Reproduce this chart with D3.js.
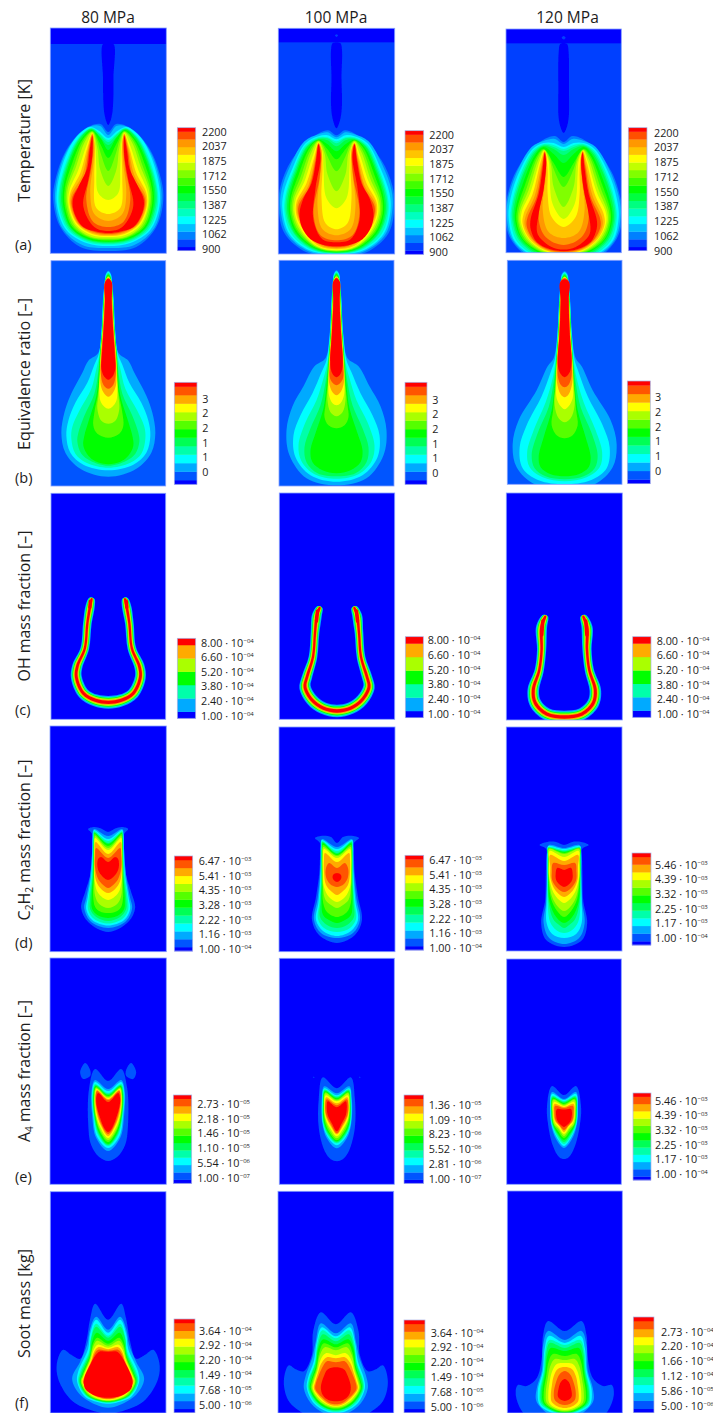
<!DOCTYPE html>
<html><head><meta charset="utf-8">
<style>html,body{margin:0;padding:0;background:#fff}svg{display:block}text{font-family:"Open Sans",sans-serif;fill:#1c1c1c}</style>
<script src="https://cdnjs.cloudflare.com/ajax/libs/d3/7.8.5/d3.min.js"></script>
</head><body><svg id="c" width="713" height="1413"></svg>
<script>
const pressures = ["80 MPa","100 MPa","120 MPa"];
const rowNames = ["Temperature [K]","Equivalence ratio [–]","OH mass fraction [–]","C|2|H|2| mass fraction [–]","A|4| mass fraction [–]","Soot mass [kg]"];
const rowTags = ["(a)","(b)","(c)","(d)","(e)","(f)"];

const rainbow17 = ["#0000ff","#0040ff","#0080ff","#00c0ff","#00ffff","#00ffc0","#00ff80","#00ff40","#00ff00","#40ff00","#80ff00","#c0ff00","#ffff00","#ffc400","#ff9800","#ff5000","#ff0000"];
const rainbow13 = ["#0000ff","#0055ff","#00aaff","#00ffff","#00ffaa","#00ff55","#00ff00","#55ff00","#aaff00","#ffff00","#ffaa00","#ff5500","#ff0000"];
const rainbow7 = ["#0000ff","#00aaff","#00ffaa","#00ff00","#aaff00","#ffaa00","#ff0000"];

const tempTicks = ["2200","2037","1875","1712","1550","1387","1225","1062","900"];
const phiTicks = ["3","2","2","1","1","0"];
const ohTicks = [["8.00","04"],["6.60","04"],["5.20","04"],["3.80","04"],["2.40","04"],["1.00","04"]];
const c2h2Ticks = [["6.47","03"],["5.41","03"],["4.35","03"],["3.28","03"],["2.22","03"],["1.16","03"],["1.00","04"]];
const c2h2Ticks120 = [["5.46","03"],["4.39","03"],["3.32","03"],["2.25","03"],["1.17","03"],["1.00","04"]];
const a4Ticks80 = [["2.73","05"],["2.18","05"],["1.46","05"],["1.10","05"],["5.54","06"],["1.00","07"]];
const a4Ticks100 = [["1.36","05"],["1.09","05"],["8.23","06"],["5.52","06"],["2.81","06"],["1.00","07"]];
const a4Ticks120 = c2h2Ticks120;
const sootTicks = [["3.64","04"],["2.92","04"],["2.20","04"],["1.49","04"],["7.68","05"],["5.00","06"]];
const sootTicks120 = [["2.73","04"],["2.20","04"],["1.66","04"],["1.12","04"],["5.86","05"],["5.00","06"]];

// iso-contours: [level, [radial, axial, radial, axial, ...]] half outline from axis to axis
const stripDepth = [16,14,14.3];
const tempJet80 = [[0,[0,16,5.3,16,5.2,50,5,72,3.5,88,0,97]]];
const tempJet100 = [[0,[0,14,4,15,5.5,22,5,50,5.5,75,4,90,0,100]],[1,[0,6,1.5,7.3,0,8.6]]];
const tempJet120 = [[0,[0,14,3.5,15,5,24,5.3,60,5.3,85,3.5,97,0,104]],[1,[0,7,2,8.7,0,10.4]]];
const temp80 = [
[2,[0,104,8,96,25,102,42,122,53,152,55,172,48,199,28,219,0,223]],
[3,[0,107,8,98,17,98,29,106,43,126,52,155,53,175,46,200,26,217,0,220]],
[4,[0,110,9,103,18,99,32,109,43,129,51,159,51,179,42,202,22,215,0,218]],
[5,[0,112,9,105,17,100,30,110,41,131,49,160,49.5,178,41,201,21,214,0,216.5]],
[6,[0,114,9,106,17,100.5,29,110,40,132,48,160,48,178,39,201,20,213,0,215.5]],
[7,[0,117,9,108,17,101,28,110,39,132,46.5,160,46.5,178,38,200,20,212,0,214.5]],
[8,[0,122,8,110,17,102,27,111,38,133,45,160,45,178,37,200,20,211,0,213.7]],
[9,[0,130,8,116,16,103,26,112,36,135,43.5,160,43.5,178,36,199,19,210,0,212.5]],
[10,[0,143,8,124,11,113,16,103.5,25,113,34,137,42,161,42,178,35,198,18,209.5,0,211.5]],
[11,[0,158,8,142,11,120,16,104,24,115,32,138,40.5,161,40.5,178,33,198,18,208.5,0,210.5]],
[12,[0,172,10,165,12,140,13,118,16,105,22,118,30,142,39,163,39.5,178,32,197,17,207,0,209]],
[13,[0,186,12,180,14,150,13.5,120,16,105.5,21,120,28,145,38,165,38.5,178,31,196,16,206,0,208]],
[14,[0,193,14,186,18,165,15,135,14,115,16,106,20,120,26,147,37,167,37.5,178,30,196,15,205,0,207]],
[15,[0,199,15,194,22,172,17,140,15,118,16,107,19.5,122,24,148,36,169,36.5,178,28,197,14,204,0,206]],
[16,[0,203,14,199,25,178,20,152,16,128,16,108,19,125,21,140,30,159,35.5,172,34,185,25,199,12,203.5,0,205]]];
const temp100 = [
[2,[0,107,8.7,102,25,110,45,132,56,158,58,178,52,205,30,224,0,228]],
[3,[0,109,9,104,18,106,32,113,46,137,55,162,56,180,49,206,28,223,0,227]],
[4,[0,111,9,107,18,108,31,115,44,140,53,165,54,182,47,206,27,222,0,226]],
[5,[0,113,9,109,18,109,31,117,43,142,51,167,52,184,45,206,25,221.5,0,225.5]],
[6,[0,115,9,110,18,110,30,118,42,143,50,168,50.5,185,43,205,24,221,0,225]],
[7,[0,118,9,112,18,111,29,118,41,144,48.5,168,49,185,42,205,23,220.5,0,224.5]],
[8,[0,123,9,116,18,111.5,28,119,40,145,47,169,47.5,185,41,204,22,220,0,224]],
[9,[0,131,9,121,18,112,27,120,38,147,45.5,169,46,186,39,204,21,219.5,0,223.5]],
[10,[0,143,9,128,13,118,18,112.5,26,122,36,149,44,170,44.5,186,38,203,20,219,0,223]],
[11,[0,163,9,146,12,125,18,113,25,124,34,151,42.5,171,43,186,36,203,20,218.5,0,222.5]],
[12,[0,180,10,170,13,140,14,123,18,114,23.5,127,32,153,41,172,41.5,186,35,202,19,218,0,222]],
[13,[0,201,11,195,15,170,14,140,15,122,18,114.5,22,128,30,155,40,174,40,187,33,202,18,217.5,0,221]],
[14,[0,207,14,201,19,178,15.5,140,15,122,18,115,21.5,130,28,157,39,176,38.5,188,31,202,17,216.5,0,220]],
[15,[0,212,16,207,23,185,17,150,15.5,125,18,115.5,21,132,27,158,38,178,37.5,188,29,203,15,216,0,219]],
[16,[0,214,14,211,23,192,21,160,16,130,18,116,20.5,133,25,155,33,170,37,185,35,198,26,211,12,217,0,218]]];
const temp120 = [
[2,[0,113,9,107,28,116,48,143,57,170,59,185,53,210,32,230,0,234]],
[3,[0,115,9,110,20,112,32,118,48,146,56,172,57,187,51,211,30,229,0,233]],
[4,[0,118,10,114,20,114,31,120,47,149,54,174,55,189,49,212,28,228,0,232]],
[5,[0,120,10,116,20,115,31,122,45,150,52,176,53,190,47,212,27,227,0,231]],
[6,[0,122,10,118,20,116,30,123,44,152,51,177,51.5,191,45,211,26,226,0,230]],
[7,[0,126,10,120,20,117,29,124,43,153,49.5,178,50,192,44,210,25,225,0,229]],
[8,[0,134,10,125,20,118,28,125,41,155,48,179,48.5,192,42,210,24,224,0,228]],
[9,[0,148,10,134,20,120,27,127,39,157,46.5,180,47,193,41,210,23,223,0,227]],
[10,[0,158,10,140,14,128,20,120.5,26,128,37,159,45,181,45.5,193,39,210,22,222.5,0,226]],
[11,[0,178,10,158,13,135,19.5,121,25,130,35,161,43.5,182,44,194,37,210,21,222,0,225.5]],
[12,[0,190,11,175,14,145,15,132,19.5,121.5,24,132,33,163,42,183,42.5,194,35,210,20,221.5,0,225]],
[13,[0,198,12,188,16,165,16,140,19,122,23,133,31,165,40,185,41,195,34,210,19,221,0,224.5]],
[14,[0,209,15,203,21,180,18,150,17,130,19,122.5,22,135,29,167,38,187,39,196,32,210,18,220.5,0,224]],
[15,[0,216,18,208,25,190,20,160,17.5,132,19,123,21.5,137,27,168,36,188,37,197,30,211,17,220,0,223]],
[16,[0,220.5,12,218,26,205,25,185,20,160,17.5,133,19,124,21,140,25,165,33,190,33,200,27,213,14,220,0,222]]];
const phi80 = [
[2,[0,10,2.5,13,3.5,20,5.5,40,7,70,10,92,20,100,26,112,38,135,44,152,47,172,43,192,28,208,0,216]],
[3,[0,11,2.5,14,3.5,20,5.2,40,6.7,70,9.5,93,14,104,21,122,33,142,40,160,42,175,38,192,25,204,0,209.5]],
[4,[0,12,2.3,15,3.2,20,5,40,6.5,70,9,95,12,108,17,128,29,150,36,166,37,178,33,193,22,202,0,207]],
[5,[0,13,2.2,16,3,20,4.8,40,6.3,70,8.7,95,10,110,14,133,24,155,30,172,31,181,27,193,18,200,0,205]],
[6,[0,14,2.2,17,3,21,4.6,40,6.1,70,8.4,95,9.5,112,12,135,19,158,24,175,25,185,20,195,12,201,0,203.5]],
[7,[0,15,2,18,3,22,4.4,40,5.9,70,8,95,9,113,10,130,14,152,15,165,11,173,0,177]],
[8,[0,16,2.5,19,3.2,24,4.2,40,5.7,70,7.8,95,8.5,113,10,135,11,148,7,160,0,163]],
[9,[0,16.5,2.5,19.5,3.4,24,4,40,5.5,70,7.5,95,8.3,113,9,130,8,140,4,146,0,148]],
[10,[0,17,2.5,20,3.8,40,5.3,70,7.3,95,8,113,7.5,125,4,133,0,136]],
[11,[0,17.5,3.2,21,3.6,40,5.1,70,7,95,7.5,113,5,124,0,128]],
[12,[0,18,3.5,22,3.3,40,4.8,70,6.5,95,7,108,4,116,0,119]]];
const phi100 = [
[2,[0,10,2.5,13,3.5,20,5,40,7,75,11,98,22,106,33,126,44,146,50,170,47,195,30,218,0,225]],
[3,[0,11,2.5,14,3.5,20,4.8,40,6.7,75,10,100,15,112,24,133,36,155,43,175,41,197,26,215,0,221.5]],
[4,[0,12,2.3,15,3.2,20,4.6,40,6.4,75,9,102,13,118,20,140,31,162,38,185,35,201,22,214,0,218.5]],
[5,[0,13,2.2,16,3,20,4.4,40,6.1,75,8.5,103,11,122,16,145,26,168,32,187,30,202,19,213,0,216]],
[6,[0,14,2.2,17,3,21,4.2,40,5.9,75,8.2,105,10,125,13,148,21,173,26,190,24,202,14,210,0,213]],
[7,[0,15,2,18,3,22,4,40,5.7,75,8,105,9,125,11,145,12,157,8,165,0,168]],
[8,[0,16,2.5,19,3.2,24,3.8,40,5.5,75,7.5,105,8.5,125,9,140,6,152,0,156]],
[9,[0,16.5,2.5,19.5,3.5,40,5.3,75,7.2,105,8,125,7.5,135,4,143,0,145]],
[10,[0,17,2.5,20,3.4,40,5.1,75,7,105,7.5,122,4,132,0,135]],
[11,[0,17.5,3.2,22,3.2,40,4.9,75,6.7,105,6.5,118,3.5,123,0,125]],
[12,[0,18,3.5,22,3.1,40,4.7,75,6.3,100,5.5,110,3,115,0,117]]];
const phi120 = [
[2,[0,11,3,14,4,22,5.5,40,7.5,75,11,98,17,106,28,130,46,160,52,184,48,207,30,224,0,229]],
[3,[0,12,2.7,15,3.8,22,5.3,40,7.2,75,10,100,14,112,23,136,38,165,45,187,42,208,26,220,0,224]],
[4,[0,13,2.6,16,3.6,22,5.1,40,6.9,75,9.3,102,12,118,19,142,31,170,37.5,192,35,207,22,217,0,221]],
[5,[0,14,2.5,17,3.5,22,5,40,6.6,75,8.8,103,11,122,16,147,27,173,33,195,30,208,19,216,0,219]],
[6,[0,15,2.4,18,3.5,23,4.8,40,6.4,75,8.5,105,10,125,13,150,21,177,26,197,24,207,14,214,0,216]],
[7,[0,16,2.4,19,3.5,24,4.6,40,6.2,75,8.3,105,9.5,125,11.5,150,13,165,8,175,0,178]],
[8,[0,16.5,3,20,4.4,40,6,75,8,105,9,125,10,145,6,158,0,162]],
[9,[0,17,3,20.5,4.3,40,5.8,75,7.8,105,8.5,125,8,138,4,146,0,149]],
[10,[0,17.5,3.5,21,4.2,40,5.6,75,7.5,105,7.7,122,4,134,0,137]],
[11,[0,18,4,21,4.1,40,5.4,75,7.2,105,6.5,118,3.5,125,0,127]],
[12,[0,19,4.5,22,4,40,5.2,75,7,100,5.8,110,3,115,0,117]]];
// OH flame-sheet ridge lines: [radial, axial, ...] and their relative thickness at each point
const ohRidge80 = [16.5,105,18,112,21,130,23.5,155,31,173,32,184,25,200,13,207,0,209];
const ohThick80 = [0.45,0.8,0.75,0.75,0.9,0.95,1,1.05,1.1];
const ohRidge100 = [17,114,20,122,22,140,24,164,30,184,32,194,25,207,14,215,0,218];
const ohThick100 = [0.45,0.85,0.75,0.75,0.9,1,1.05,1.05,1.1];
const ohRidge120 = [18.7,122.7,22.7,134,22.7,157,25,177,31,197,29,210,17.7,221,0,224];
const ohThick120 = [0.45,0.95,0.8,0.8,1,1.05,1.05,1.1];
const ohBlob80 = [18,108,18.5,114];
const ohBlob100 = [19.5,118,20.5,128];
const ohBlob120 = [21.5,128,22.5,142];
const c2h280 = [
[1,[0,106,7,102.5,14,101,20,103,16,108,16,125,18,149,23,166,27,182,20,196,0,206]],
[2,[0,110,14,103,15.5,107,16,125,18,150,22,172,24,182,18,195,0,202]],
[3,[0,113,14,104,15,109,15.5,125,17,150,20.5,172,22,183,16,194,0,199.5]],
[4,[0,115,14,105,14.5,110,15,125,16.5,150,19.5,172,20,184,14,193,0,197.5]],
[5,[0,117,14,106,14.5,111,14.8,130,15.5,150,18,172,18,183,12,191,0,195]],
[6,[0,118,13.5,107,14.2,112,14.5,130,15,150,16.5,170,16,183,10,189.5,0,192]],
[7,[0,120,13.5,108,14,113,14.3,130,14.5,150,15,170,13,181,8,185.5,0,187]],
[8,[0,122,13,110,13.8,115,14,135,14,155,13,170,9,178,0,182]],
[9,[0,124,13,112,13.7,120,14,135,13.5,155,10,167,0,174]],
[10,[0,128,12.5,116,13.5,125,13.8,140,12,155,7,163,0,167]],
[11,[0,132,12,122,13,130,13,142,10,153,5,159,0,162]],
[12,[0,136,7,131,10,133,10.5,142,7,149,0,154]]];
const c2h2100 = [
[1,[0,116,6,110,14,108.7,22,111,17,116,17,130,17.7,146,21,170,25,193,18,208,0,216]],
[2,[0,120,15,112,16.3,118,16.5,130,17,148,19.5,172,23,193,16,206,0,211]],
[3,[0,122,15,113,16,119,16,130,16.5,150,18.5,175,21,193,14,204,0,209]],
[4,[0,124,15,114,15.5,120,15.7,130,16,150,17.5,175,19,192,13,201,0,205]],
[5,[0,126,14.5,115,15.3,121,15.5,135,15.5,155,16.5,175,17,190,10,198,0,201]],
[6,[0,127,14,116,15,122,15,135,15,155,15.5,175,14,188,8,193,0,196]],
[7,[0,128,14,118,14.7,125,14.7,140,14.5,160,14,175,10,185,0,190]],
[8,[0,129,13.5,120,14.5,127,14.5,140,14,160,11.5,173,6,178,0,181]],
[9,[0,131,13,122,14,130,14,145,13,160,8,170,0,175]],
[10,[0,135,12,126,13,133,13,145,11,158,5,165,0,168]],
[11,[0,141,8,136,11,141,11,150,7,157,0,160]],
[12,[0,146,4,148,4,152,0,155]]];
const c2h2120 = [
[1,[0,118,8,115,17,115,24.5,118,18,122,18,135,18.3,146,19,173,23,196,18,213,0,220]],
[2,[0,121,15,118,17,124,17.3,150,18,175,20.5,196,15,211,0,217]],
[3,[0,122,16,119,16.7,125,17,150,17.5,175,17.5,196,12,207,0,211]],
[4,[0,123,16,120,16.5,126,16.5,150,16.5,175,14,195,8,203,0,206]],
[5,[0,124,16,121,16.2,127,16.2,150,15.5,175,11,192,5,198,0,201]],
[6,[0,125,15.8,122,16,129,16,150,14.5,175,8,190,0,196]],
[7,[0,126,15.5,121,15.8,130,15.7,150,13,172,7,184,0,190]],
[8,[0,127,15,122,15.5,132,15.3,150,12,170,6,180,0,184]],
[9,[0,130,14.5,124,15,135,15,150,11,165,5,173,0,176]],
[10,[0,134,14,128,13.8,140,13.5,152,9,163,0,170]],
[11,[0,138,11,136,12.3,145,12,153,7,161,0,165]],
[12,[0,143,7,141,8.5,147,8,153,4,158,0,160]]];
const a480 = [
[1,[0,123,13,111,19,130,20,164,17,187,9,199,0,203]],
[2,[0,131,13,122,16.5,132,16,157,12,180,0,193]],
[3,[0,133,13,124,16,134,15,157,11,179,0,190]],
[4,[0,135,13,126,15.5,134,14.5,157,10,177,0,188]],
[5,[0,136,12.5,127,15,135,14,157,9.5,176,0,187]],
[6,[0,137,12.5,128,14.5,136,13.5,157,9,175,0,186]],
[7,[0,138,12,129,14,137,13,157,8.5,173,0,184]],
[8,[0,139,12,130,13.7,137,12.5,157,8,172,0,182]],
[9,[0,140,11.5,131,13.3,138,12,157,7.5,170,0,180]],
[10,[0,141,11,132,13,139,11.5,155,7,168,0,178]],
[11,[0,142,11,133,12.5,140,11,153,6.5,167,0,176]],
[12,[0,144,10,135,12,141,11,150,8,160,4,170,0,174]]];
const a4Wing80 = [23,105,18,112,18,118,25,121,28,114];
const a4Wing100 = [23,118.4,23.6,119,23,119.6,22.4,119];
const a4100 = [
[1,[0,130,14,119,18,140,18,170,12,193,6,201,0,203]],
[2,[0,135,12.5,128,15,140,14.5,165,10,180,0,190]],
[3,[0,137,12.5,130,14.5,142,14,165,9.5,178,0,187]],
[4,[0,138,12.3,131,14,143,13.5,165,9,177,0,185]],
[5,[0,139,12,132,13.7,144,13,165,8.5,176,0,184]],
[6,[0,140,11.8,133,13.4,145,12.5,165,8,175,0,183]],
[7,[0,141,11.5,134,13,145,12,163,7.5,174,0,182]],
[8,[0,142,11.3,135,12.8,146,11.8,160,7,172,0,180]],
[9,[0,143,11,137,12.5,146,11.3,160,6.5,170,0,178]],
[10,[0,145,10.5,139,12,147,11,158,6,168,0,176]],
[11,[0,147,10,141,11.5,147,10.5,157,5.5,167,0,175]],
[12,[0,149,9,143,10,147,9,157,5,165,0,173]]];
const a4120 = [
[1,[0,136,12,127,17,147,16,165,11,187,5,198,0,200]],
[2,[0,140,12,133,14,148,13,165,8,180,0,189]],
[3,[0,141,12,135,13.5,150,12.5,165,7.5,178,0,187]],
[4,[0,142,11.8,137,13,151,12,165,7,177,0,185]],
[5,[0,143,11.5,138,12.7,152,11.5,165,6.8,175,0,183]],
[6,[0,144,11.2,139,12.3,152,11,165,6.5,174,0,181]],
[7,[0,145,11,140,12,153,10.5,165,6,172,0,179]],
[8,[0,146,10.5,141,11.5,153,10,165,5.5,170,0,177]],
[9,[0,147,10,143,11,153,9.5,163,5,169,0,175]],
[10,[0,148,9.5,145,10.5,153,9,162,4.5,167,0,173]],
[11,[0,149,9,147,9.5,153,8.5,161,4,167,0,171]],
[12,[0,150.5,7,150,8,155,6.5,162,3,166,0,168]]];
const soot80 = [
[1,[0,128,13,112,18,127,22,150,28,167,37,163,45,158,51,170,50,187,35,210,8,221,0,222]],
[2,[0,138,12,125,18,137,21,153,28,170,36,187,28,203,12,213,0,216]],
[3,[0,141,12,128,18,142,20,157,30,180,31,190,23,205,8,211,0,212]],
[4,[0,144,12,132,17,145,19,160,28,180,30,190,22,204,8,210,0,211]],
[5,[0,146,12,135,17,147,18.5,161,27,181,29,190,21,204,8,209.5,0,210.5]],
[6,[0,149,11.5,141,16,150,18,163,26,182,28,190,20,204,8,209,0,210]],
[7,[0,152,11,146,15.5,153,18,165,25.5,183,27.5,190,20,203.5,8,208.5,0,209.5]],
[8,[0,154,11,149,15,155,18,167,25,184,27,190,19,203,8,208,0,209]],
[9,[0,156,10.5,153,14.5,158,17.5,168,24.5,184,26,190,18,202.5,8,207.5,0,208.5]],
[10,[0,157.5,10,155.5,14,160,17,169,24,185,25.5,190,17,202,8,206.5,0,207.5]],
[11,[0,159,10,158,13.5,162,16.5,170,24,187,24.8,191,16,201,7,206,0,207]],
[12,[0,160,9,160,13,164,18,173,24,187,23,197,13,204,0,206]]];
const soot100 = [
[1,[0,133,15,121,22.7,140,24,164,32,180,40,178,47,174,52,190,47,210,33,222,15,232,0,234]],
[2,[0,142,15,132,20,150,23.7,167,30,184,32,197,25,212,12,222,0,226]],
[3,[0,145,14,136,19,150,22,170,28,187,29,197,22,212,10,220,0,222]],
[4,[0,147,13.5,139,18.5,152,21,172,27,188,28,197,21,211,10,218.5,0,220.5]],
[5,[0,150,13,143,18,155,20.5,172,26,188,27,197,20,210,9,217.5,0,219.5]],
[6,[0,153,12.5,148,17.5,157,20,175,25,190,26,197,19,210,9,217,0,218.5]],
[7,[0,156,12,152,16.5,161,19.5,177,24,190,25,197,18,209,8,216,0,217.5]],
[8,[0,159,11,156,16,164,19,178,23,191,24,197,17,209,8,215,0,216.5]],
[9,[0,164,10,162,15,168,18.5,180,22,191,23,197,16,208,7,214,0,215.5]],
[10,[0,167,9,166,14.5,172,18,182,21,192,22,197,15,207,7,213,0,214.5]],
[11,[0,171,9,170,14,177,17.5,185,20,192,20.5,198,14,206,6,212,0,213]],
[12,[0,176,8,178,12,185,15,196,13,204,7,209,0,210]]];
const soot120 = [
[1,[0,140,16.7,130,21.7,144,23,167,28,187,38,195,47,194,49,204,43,220,30,232,0,238]],
[2,[0,149,16.7,140,21.7,154,23,180,28,197,28.5,210,18,222,0,232]],
[3,[0,152,16,145,20,157,22,180,27,200,25,214,15,221,0,225]],
[4,[0,154,15.5,149,19.5,160,21,180,25,200,24,213,13,220,0,223.5]],
[5,[0,157,15,152,18.5,162,20,180,24,200,23,212,13,219.5,0,222.5]],
[6,[0,160,14,157,17.5,165,19.5,182,22.5,200,21.5,212,12,219,0,222]],
[7,[0,165,12,163,16,170,18.5,185,21,201,20,212,11,218.5,0,221]],
[8,[0,169,10,168,14.5,175,17,187,19,202,18,212,10,218,0,220]],
[9,[0,172,8,173,12.5,180,15,190,16.5,203,15.5,212,9,217,0,219]],
[10,[0,176,7,178,11,185,13,195,14,205,13,211,7,215.5,0,217]],
[11,[0,180,5,183,9,192,11,202,10,209,5,213,0,214]],
[12,[0,188,4,191,6.5,199,7,205,5,208,0,210]]];

// layout
const panelBoxes = [
 [[50.3,166.3,28,253.3],[278.3,394.7,28.3,254],[506,621.3,29,252.7]],
 [[51,165.7,260.7,486],[279,394,260.3,486],[507.3,622,260.3,484.3]],
 [[51,165.7,493.3,719.3],[279.3,394.7,493,719.3],[506.3,622.3,493,720]],
 [[50,166.3,726,951.7],[279,395,727,951.7],[506.3,622,727,951]],
 [[50,166.3,958,1184.3],[279.3,394.3,958.3,1184.3],[506.7,621.3,959,1184.3]],
 [[50.3,166,1191.7,1413],[278,393.7,1191.3,1413],[507.3,622.3,1191,1413]]];
// x0,x1,y0,y1,labelX,firstLabelY,lastLabelY
const legendBoxes = [
 [[177.3,195.7,127.7,250.7,202,131.7,249.3],[405,423.7,130.7,254.3,429.3,134.7,252.3],[628.3,647,127.7,250.7,654,132.7,250.7]],
 [[174.3,197,382.3,484.3,202.3,399,472.3],[405,427,382.3,484.3,432.3,400,473.3],[627.3,650.3,381,483.7,655,397.3,471]],
 [[177.3,195.7,638.3,718.3,201,642.7,715.7],[405.3,423.3,636.7,717.7,427.7,640.3,714],[632.7,651,636.7,717.3,656.7,640.7,714.3]],
 [[174.3,192.7,856,951,198.7,861,949.3],[405,423.7,855.3,950,429.3,860,948.3],[632,651,853,945,655,865,938]],
 [[173.3,191.7,1095,1183.3,197.3,1104.3,1177.7],[404,423.7,1095,1183.3,428.7,1105,1179],[633,651,1093,1180,655,1101,1174]],
 [[174,195,1319,1412.7,199,1330.7,1405],[404,425,1320,1412.7,430.7,1332.7,1406.7],[633.3,654,1317,1412.7,661,1331.7,1405.7]]];
const titleSpots = [[108,22.7],[336,22.7],[567.5,22.7]];
const rowLabelSpots = [[29.5,140.5,123],[29.5,374,152],[29.5,606,151],[29.5,840,161],[29.5,1071,142],[29.5,1303.5,109]];
const tagSpots = [[15,250],[15,483],[15,715],[15,948],[15,1181.7],[15,1408]];

const rows = [
 {pal:rainbow17,body:1,sets:[temp80,temp100,temp120],ticks:[tempTicks,tempTicks,tempTicks],jets:[tempJet80,tempJet100,tempJet120]},
 {pal:rainbow13,body:1,sets:[phi80,phi100,phi120],ticks:[phiTicks,phiTicks,phiTicks]},
 {pal:rainbow7,body:0,ridges:[ohRidge80,ohRidge100,ohRidge120],thick:[ohThick80,ohThick100,ohThick120],blobs:[ohBlob80,ohBlob100,ohBlob120],ticks:[ohTicks,ohTicks,ohTicks]},
 {pal:rainbow13,body:0,sets:[c2h280,c2h2100,c2h2120],ticks:[c2h2Ticks,c2h2Ticks,c2h2Ticks120]},
 {pal:rainbow13,body:0,sets:[a480,a4100,a4120],wings:[a4Wing80,a4Wing100,null],ticks:[a4Ticks80,a4Ticks100,a4Ticks120]},
 {pal:rainbow13,body:0,sets:[soot80,soot100,soot120],ticks:[sootTicks,sootTicks,sootTicks120]}];
const ohWidths = [11.5,9.5,8,6.5,4.5,3];

const pairs = f => d3.range(0,f.length,2).map(i=>[f[i],f[i+1]]);
const svg = d3.select("#c");
const defs = svg.append("defs");
defs.append("filter").attr("id","soft").attr("x","-5%").attr("y","-5%").attr("width","110%").attr("height","110%")
  .append("feGaussianBlur").attr("stdDeviation",0.55);

pressures.forEach((p,i)=>svg.append("text").attr("x",titleSpots[i][0]).attr("y",titleSpots[i][1])
  .attr("text-anchor","middle").attr("font-size",15.5).text(p));

rowNames.forEach((name,r)=>{
  const [x,y,len] = rowLabelSpots[r];
  const t = svg.append("text").attr("transform",`translate(${x},${y}) rotate(-90)`).attr("text-anchor","middle");
  const parts = name.split("|");
  const spans = parts.map((s,k)=>{
    const sub = k%2===1;
    return {sub, el:t.append("tspan").attr("font-size",sub?9.6:15).attr("dy",parts.length===1?0:(sub?3:(k>0?-3:0))).text(s)};
  });
  const f = len/t.node().getComputedTextLength();
  spans.forEach(s=>s.el.attr("font-size",(s.sub?9.6:15)*f));
  svg.append("text").attr("x",tagSpots[r][0]).attr("y",tagSpots[r][1]).attr("font-size",14.5).text(rowTags[r]);
});

rows.forEach((row,r)=>{
  [0,1,2].forEach(c=>{
    const [x0,x1,y0,y1] = panelBoxes[r][c];
    const half = (x1-x0)/2, H = y1-y0;
    const xS = d3.scaleLinear().domain([-half,half]).range([x0,x1]);
    const yS = d3.scaleLinear().domain([0,H]).range([y0,y1]);
    const id = `clip${r}${c}`;
    defs.append("clipPath").attr("id",id).append("rect").attr("x",x0).attr("y",y0).attr("width",x1-x0).attr("height",y1-y0);
    const outer = svg.append("g").attr("clip-path",`url(#${id})`);
    const g = outer.append("g").attr("filter","url(#soft)");
    g.append("rect").attr("x",x0-6).attr("y",y0-6).attr("width",x1-x0+12).attr("height",y1-y0+12).attr("fill",row.pal[row.body]);
    const closed = d3.line().x(d=>xS(d[0])).y(d=>yS(d[1])).curve(d3.curveCatmullRomClosed.alpha(0.5));
    const open = d3.line().x(d=>xS(d[0])).y(d=>yS(d[1])).curve(d3.curveCatmullRom.alpha(0.5));
    const mirror = h => h.concat(h.slice(1,-1).reverse().map(d=>[-d[0],d[1]]));
    if(row.jets){
      g.append("rect").attr("x",x0-6).attr("y",y0-6).attr("width",x1-x0+12).attr("height",yS(stripDepth[c])-y0+6).attr("fill",row.pal[0]);
      row.jets[c].forEach(([lv,f])=>g.append("path").attr("d",closed(mirror(pairs(f)))).attr("fill",row.pal[lv]));
    }
    if(row.wings && row.wings[c]){
      const w = pairs(row.wings[c]);
      g.append("path").attr("d",closed(w)).attr("fill",row.pal[1]);
      g.append("path").attr("d",closed(w.map(d=>[-d[0],d[1]]))).attr("fill",row.pal[1]);
    }
    if(row.sets) row.sets[c].forEach(([lv,f])=>g.append("path").attr("d",closed(mirror(pairs(f)))).attr("fill",row.pal[lv]));
    if(row.ridges){
      const h = pairs(row.ridges[c]);
      const th = row.thick[c];
      const full = h.concat(h.slice(0,-1).reverse().map(d=>[-d[0],d[1]]));
      const fullTh = th.concat(th.slice(0,-1).reverse());
      ohWidths.forEach((w,k)=>{
        const a=[],b=[];
        full.forEach((p,i)=>{
          const p0=full[Math.max(i-1,0)],p1=full[Math.min(i+1,full.length-1)];
          const dx=p1[0]-p0[0],dy=p1[1]-p0[1],l=Math.hypot(dx,dy);
          const o=w/2*fullTh[i];
          a.push([p[0]-dy/l*o,p[1]+dx/l*o]);
          b.push([p[0]+dy/l*o,p[1]-dx/l*o]);
        });
        g.append("path").attr("d",closed(a.concat(b.reverse()))).attr("fill",row.pal[k+1]);
      });
      const bl = pairs(row.blobs[c]);
      [1,-1].forEach(s=>g.append("path").attr("d",open(bl.map(d=>[s*d[0],d[1]]))).attr("fill","none")
        .attr("stroke",row.pal[6]).attr("stroke-width",3.4).attr("stroke-linecap","round"));
    }
    svg.append("rect").attr("x",x0).attr("y",y0).attr("width",x1-x0).attr("height",y1-y0).attr("fill","none").attr("stroke","#86a0ff").attr("stroke-width",0.8);

    // legend
    const [lx0,lx1,ly0,ly1,tx,ty0,ty1] = legendBoxes[r][c];
    const n = row.pal.length;
    const lS = d3.scaleLinear().domain([0,n-1]).range([ly1,ly0]).clamp(true);
    const lg = svg.append("g");
    row.pal.forEach((col,i)=>lg.append("rect").attr("x",lx0).attr("width",lx1-lx0)
      .attr("y",lS(i+0.5)).attr("height",lS(i-0.5)-lS(i+0.5)+0.3).attr("fill",col));
    lg.append("rect").attr("x",lx0).attr("y",ly0).attr("width",lx1-lx0).attr("height",ly1-ly0).attr("fill","none").attr("stroke","#a9b4e6").attr("stroke-width",0.7);
    const ticks = row.ticks[c];
    const tS = d3.scalePoint().domain(d3.range(ticks.length)).range([ty0,ty1]);
    ticks.forEach((t,i)=>{
      const el = svg.append("text").attr("x",tx).attr("y",tS(i)+3.8).attr("font-size",10.8);
      if(typeof t==="string") el.text(t);
      else{
        el.append("tspan").text(`${t[0]} · 10`);
        el.append("tspan").attr("dy",-3.8).attr("font-size",6).attr("dx",0.3).text(`−${t[1]}`);
      }
    });
  });
});
</script></body></html>
